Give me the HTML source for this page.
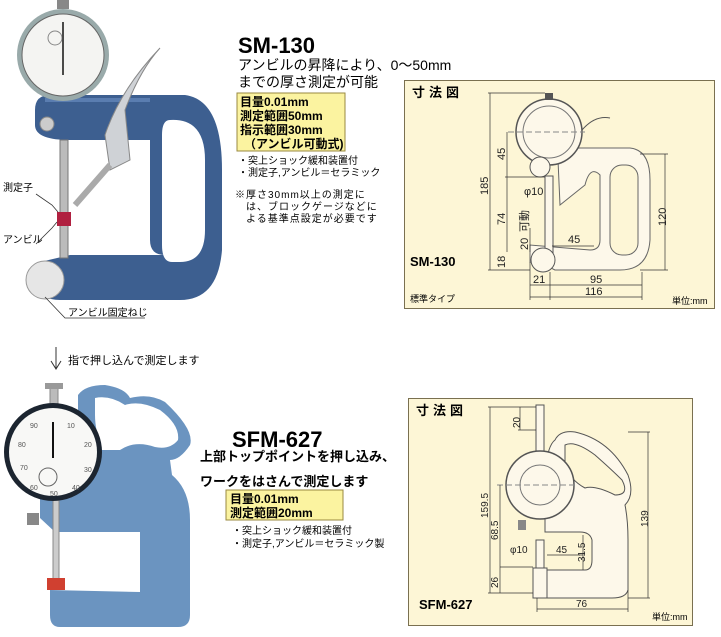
<!DOCTYPE html>
<html><head><meta charset="utf-8"><style>
html,body{margin:0;padding:0;background:#fff;}
svg{display:block}
text{font-family:"Liberation Sans","Noto Sans CJK JP",sans-serif;}
</style></head><body>
<svg width="721" height="637" viewBox="0 0 721 637" xmlns="http://www.w3.org/2000/svg">
<!-- ===== Top gauge photo ===== -->
<path d="M35,110 Q35,95 50,95 L185,95 Q222,100 222,170 L222,250 Q218,300 180,300 L60,300 Q40,300 40,285 L40,262 L70,255 L165,255 Q150,255 150,240 L150,140 L70,140 Q35,140 35,125 Z" fill="#3d5f90"/>
<path d="M170,120 Q205,118 205,160 L205,230 Q205,262 180,262 L172,262 Q162,262 162,245 L162,135 Q162,120 170,120 Z" fill="#fff"/>
<path d="M45,100 L150,100" stroke="#5a7db0" stroke-width="4"/>
<circle cx="47" cy="124" r="7" fill="#ccc" stroke="#888"/>
<rect x="60" y="140" width="8" height="118" fill="#bbb" stroke="#777" stroke-width="1"/>
<rect x="57" y="212" width="14" height="14" fill="#b02040"/>
<circle cx="63" cy="55" r="46" fill="#9aa" />
<circle cx="63" cy="55" r="41" fill="#f4f4f2" stroke="#666"/>
<rect x="57" y="0" width="12" height="9" fill="#888"/>
<line x1="63" y1="22" x2="63" y2="75" stroke="#111" stroke-width="1.5"/>
<circle cx="55" cy="38" r="7" fill="none" stroke="#888"/>
<path d="M105,135 Q120,90 160,48 Q140,70 125,110 L130,160 L110,170 Z" fill="#cfd2d6" stroke="#888"/>
<path d="M110,165 L75,205" stroke="#aaa" stroke-width="6"/>
<circle cx="45" cy="280" r="19" fill="#e6e6e6" stroke="#999"/>
<text x="3" y="191" font-size="10">測定子</text>
<text x="3" y="243" font-size="10">アンビル</text>
<text x="68" y="316" font-size="10">アンビル固定ねじ</text>
<polyline points="36,194 52,205 58,212" fill="none" stroke="#333" stroke-width="0.8"/>
<polyline points="36,244 52,228 57,222" fill="none" stroke="#333" stroke-width="0.8"/>
<polyline points="45,297 65,318 145,318" fill="none" stroke="#333" stroke-width="0.8"/>

<!-- Top text -->
<text x="238" y="53" font-size="22" font-weight="bold">SM-130</text>
<text x="238" y="70" font-size="14">アンビルの昇降により、0～50mm</text>
<text x="238" y="87" font-size="14">までの厚さ測定が可能</text>
<rect x="237" y="93" width="108" height="58" fill="#fbf3a0" stroke="#9a8a40"/>
<text x="240" y="106" font-size="12" font-weight="bold">目量0.01mm</text>
<text x="240" y="120" font-size="12" font-weight="bold">測定範囲50mm</text>
<text x="240" y="134" font-size="12" font-weight="bold">指示範囲30mm</text>
<text x="244" y="148" font-size="12" font-weight="bold">（アンビル可動式)</text>
<text x="238" y="164" font-size="10">・突上ショック緩和装置付</text>
<text x="238" y="176" font-size="10">・測定子,アンビル＝セラミック</text>
<text x="235" y="198" font-size="10" letter-spacing="1">※厚さ30mm以上の測定に</text>
<text x="246" y="210" font-size="10" letter-spacing="1">は、ブロックゲージなどに</text>
<text x="246" y="222" font-size="10" letter-spacing="1">よる基準点設定が必要です</text>

<!-- ===== Panel 1 ===== -->
<rect x="404.5" y="80.5" width="310" height="228" fill="#fdf6d6" stroke="#7a7050"/>
<text x="412" y="97" font-size="13" font-weight="bold" letter-spacing="4">寸法図</text>
<path d="M558,160 Q560,148 575,148 L630,148 Q650,150 650,180 L650,240 Q648,270 620,270 L555,270 Q540,262 530,262 L530,245 L590,250 Q600,250 600,240 L600,175 Q590,165 585,185 L560,205 Z" fill="#fdf8ea" stroke="#666"/>
<rect x="610" y="165" width="28" height="90" rx="12" fill="#fdf6d6" stroke="#666"/>
<circle cx="549" cy="132" r="33" fill="#fdf8ea" stroke="#555" stroke-width="1.5"/>
<circle cx="549" cy="132" r="26" fill="none" stroke="#777"/>
<rect x="545" y="93" width="8" height="7" fill="#555"/>
<line x1="508" y1="132" x2="585" y2="132" stroke="#888" stroke-dasharray="6,3"/>
<circle cx="540" cy="167" r="10" fill="#fdf8ea" stroke="#555"/>
<rect x="545" y="176" width="8" height="80" fill="#fdf8ea" stroke="#555"/>
<circle cx="543" cy="260" r="12" fill="#fdf8ea" stroke="#555"/>
<path d="M582,130 Q595,115 610,118" fill="none" stroke="#555"/>
<g stroke="#333" stroke-width="0.7" fill="none">
<line x1="490" y1="93" x2="490" y2="270"/><line x1="488" y1="93" x2="545" y2="93"/><line x1="488" y1="270" x2="530" y2="270"/>
<line x1="507" y1="132" x2="507" y2="252"/><line x1="505" y1="177" x2="545" y2="177"/>
<line x1="530" y1="228" x2="530" y2="252"/>
<line x1="665" y1="154" x2="665" y2="270"/><line x1="640" y1="154" x2="668" y2="154"/><line x1="640" y1="270" x2="668" y2="270"/>
<line x1="530" y1="262" x2="530" y2="300"/><line x1="550" y1="272" x2="550" y2="300"/><line x1="642" y1="272" x2="642" y2="300"/>
<line x1="530" y1="285" x2="550" y2="285"/><line x1="550" y1="285" x2="642" y2="285"/><line x1="530" y1="297" x2="642" y2="297"/>
<line x1="552" y1="246" x2="594" y2="246"/>
</g>
<g font-size="11" fill="#222">
<text x="0" y="0" transform="translate(488,195) rotate(-90)">185</text>
<text x="0" y="0" transform="translate(505,160) rotate(-90)">45</text>
<text x="0" y="0" transform="translate(505,225) rotate(-90)">74</text>
<text x="0" y="0" transform="translate(528,250) rotate(-90)">20</text>
<text x="0" y="0" transform="translate(528,232) rotate(-90)">可動</text>
<text x="0" y="0" transform="translate(505,268) rotate(-90)">18</text>
<text x="0" y="0" transform="translate(666,226) rotate(-90)">120</text>
<text x="524" y="195">φ10</text>
<text x="568" y="243">45</text>
<text x="533" y="283">21</text>
<text x="590" y="283">95</text>
<text x="585" y="295">116</text>
</g>
<text x="410" y="266" font-size="13" font-weight="bold">SM-130</text>
<text x="410" y="302" font-size="9">標準タイプ</text>
<text x="672" y="304" font-size="9">単位:mm</text>

<!-- ===== Bottom gauge photo ===== -->
<line x1="56" y1="347" x2="56" y2="368" stroke="#333"/>
<polyline points="51,361 56,369 61,361" fill="none" stroke="#333"/>
<text x="68" y="364" font-size="11">指で押し込んで測定します</text>
<path d="M78,395 Q85,385 105,385 Q125,388 130,398 Q150,393 165,402 Q195,430 190,445 Q180,460 170,460 L172,475 Q190,490 190,520 L190,615 Q190,627 178,627 L60,627 Q50,627 50,615 L50,590 L140,592 L140,532 L55,532 L40,518 L40,460 L78,455 Z" fill="#6b94c0"/>
<path d="M95,398 Q110,395 125,405 Q140,400 160,410 Q180,425 178,440 Q170,450 155,447 Q135,440 120,450 L102,450 Q95,430 95,415 Z" fill="#fff"/>
<rect x="60" y="535" width="78" height="55" fill="#fff"/>
<rect x="50" y="385" width="8" height="30" fill="#bbb" stroke="#888"/>
<rect x="45" y="383" width="18" height="6" fill="#999"/>
<rect x="53" y="500" width="6" height="80" fill="#ccc" stroke="#888"/>
<rect x="47" y="578" width="18" height="12" fill="#d04030"/>
<rect x="27" y="513" width="12" height="12" fill="#888"/>
<circle cx="53" cy="452" r="49" fill="#1c2530"/>
<circle cx="53" cy="452" r="44" fill="#f8f8f6"/>
<line x1="53" y1="422" x2="53" y2="458" stroke="#111" stroke-width="2"/>
<circle cx="48" cy="477" r="9" fill="none" stroke="#666"/>
<g font-size="7" fill="#555"><text x="30" y="428">90</text><text x="67" y="428">10</text><text x="18" y="447">80</text><text x="84" y="447">20</text><text x="20" y="470">70</text><text x="84" y="472">30</text><text x="30" y="490">60</text><text x="72" y="490">40</text><text x="50" y="496">50</text></g>

<!-- Bottom text -->
<text x="232" y="447" font-size="22" font-weight="bold">SFM-627</text>
<text x="200" y="461" font-size="13" font-weight="bold">上部トップポイントを押し込み、</text>
<text x="200" y="486" font-size="13" font-weight="bold">ワークをはさんで測定します</text>
<rect x="226" y="490" width="117" height="30" fill="#fbf3a0" stroke="#9a8a40"/>
<text x="230" y="503" font-size="12" font-weight="bold">目量0.01mm</text>
<text x="230" y="517" font-size="12" font-weight="bold">測定範囲20mm</text>
<text x="232" y="534" font-size="10">・突上ショック緩和装置付</text>
<text x="232" y="547" font-size="10">・測定子,アンビル＝セラミック製</text>

<!-- ===== Panel 2 ===== -->
<rect x="408.5" y="398.5" width="284" height="227" fill="#fdf6d6" stroke="#7a7050"/>
<text x="416" y="415" font-size="13" font-weight="bold" letter-spacing="4">寸法図</text>
<path d="M555,440 Q560,430 575,432 Q610,440 628,475 Q635,495 625,505 Q628,520 628,540 L628,590 Q626,598 612,598 L540,598 L535,570 L585,570 Q592,570 592,560 L592,540 Q590,532 580,532 L545,532 L545,470 Q548,445 555,440 Z" fill="#fdf8ea" stroke="#555"/>
<path d="M565,445 Q575,440 595,455 Q612,470 622,480 Q630,495 615,495 Q595,485 585,488 Q570,480 565,465 Z" fill="#fdf6d6" stroke="#555"/>
<rect x="536" y="405" width="8" height="50" fill="#fdf8ea" stroke="#555"/>
<circle cx="540" cy="485" r="34" fill="#fdf8ea" stroke="#555" stroke-width="1.5"/>
<circle cx="540" cy="485" r="20" fill="none" stroke="#777"/>
<line x1="497" y1="485" x2="575" y2="485" stroke="#888" stroke-dasharray="6,3"/>
<rect x="518" y="520" width="8" height="10" fill="#888"/>
<rect x="536" y="540" width="8" height="35" fill="#fdf8ea" stroke="#555"/>
<rect x="533" y="568" width="14" height="30" fill="#fdf8ea" stroke="#555"/>
<g stroke="#333" stroke-width="0.7" fill="none">
<line x1="490" y1="407" x2="490" y2="593"/><line x1="488" y1="407" x2="536" y2="407"/><line x1="488" y1="593" x2="533" y2="593"/>
<line x1="520" y1="407" x2="520" y2="430"/><line x1="518" y1="430" x2="536" y2="430"/>
<line x1="500" y1="485" x2="500" y2="593"/>
<line x1="500" y1="567" x2="533" y2="567"/>
<line x1="583" y1="535" x2="583" y2="570"/>
<line x1="547" y1="555" x2="583" y2="555"/>
<line x1="648" y1="432" x2="648" y2="598"/><line x1="628" y1="432" x2="650" y2="432"/><line x1="628" y1="598" x2="650" y2="598"/>
<line x1="537" y1="598" x2="537" y2="612"/><line x1="628" y1="590" x2="628" y2="612"/><line x1="537" y1="609" x2="628" y2="609"/>
</g>
<g font-size="10" fill="#222">
<text transform="translate(520,428) rotate(-90)">20</text>
<text transform="translate(488,518) rotate(-90)">159.5</text>
<text transform="translate(498,540) rotate(-90)">68.5</text>
<text transform="translate(498,588) rotate(-90)">26</text>
<text transform="translate(585,562) rotate(-90)">31.5</text>
<text transform="translate(648,527) rotate(-90)">139</text>
<text x="510" y="553">φ10</text>
<text x="556" y="553">45</text>
<text x="576" y="607">76</text>
</g>
<text x="419" y="609" font-size="13" font-weight="bold">SFM-627</text>
<text x="652" y="620" font-size="9">単位:mm</text>
</svg>
</body></html>
